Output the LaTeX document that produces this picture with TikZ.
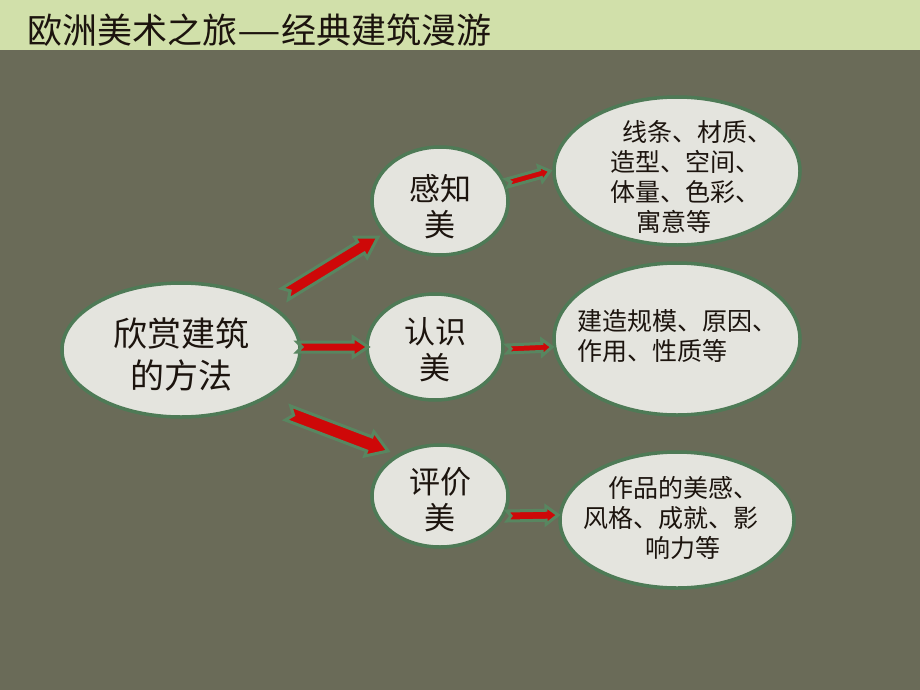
\documentclass[tikz,border=0pt]{standalone}
\usepackage{fontspec}
\newfontfamily\cjk{Noto Sans CJK SC}
\usetikzlibrary{calc,shapes.geometric}
\definecolor{bg}{RGB}{106,107,88}
\definecolor{titlebg}{RGB}{209,224,170}
\definecolor{ellfill}{RGB}{228,228,222}
\definecolor{ellline}{RGB}{78,122,86}
\definecolor{arrred}{RGB}{206,8,8}
\definecolor{arrgreen}{RGB}{88,134,96}
\definecolor{txt}{RGB}{28,20,14}
% #1 from, #2 to, #3 shaft half width, #4 head half width, #5 head length, #6 notch depth
\newcommand\blockarr[6]{%
  \filldraw[blockarrow] let \p1=(#1), \p2=(#2),
    \n1={atan2(\y2-\y1,\x2-\x1)}, \n2={veclen(\x2-\x1,\y2-\y1)} in
    [shift={(\p1)}, rotate=\n1]
    (0pt,-#3) -- ({\n2*1pt-#5},-#3) -- ({\n2*1pt-#5},-#4) -- ({\n2*1pt},0pt)
    -- ({\n2*1pt-#5},#4) -- ({\n2*1pt-#5},#3) -- (0pt,#3) -- (#6,0pt) -- cycle;}
\begin{document}
\begin{tikzpicture}[x=1pt,y=-1pt,
  bubble/.style={ellipse, draw=ellline, line width=3.5pt, fill=ellfill, inner sep=0pt},
  bigtext/.style={text=txt, align=center, font=\cjk\fontsize{34}{42}\selectfont},
  midtext/.style={text=txt, align=center, font=\cjk\fontsize{31}{36}\selectfont},
  smalltext/.style={text=txt, align=left, anchor=north west, inner sep=0pt, font=\cjk\fontsize{25}{30}\selectfont},
  blockarrow/.style={fill=arrred, draw=arrgreen, line width=3pt, line join=miter}]
\fill[bg] (0,0) rectangle (920,690);
\fill[titlebg] (0,0) rectangle (920,50);
\useasboundingbox (0,0) rectangle (920,690);
\node[anchor=base west, inner sep=0pt, text=txt, font=\cjk\fontsize{35}{40}\selectfont] (title) at (27,44) {欧洲美术之旅\scalebox{1.4}[1]{—}经典建筑漫游};
% ellipses
\node[bubble, minimum width=238pt, minimum height=134pt] (main) at (181,350) {};
\node[bigtext] (maint) at (181,354) {欣赏建筑\\的方法};
\node[bubble, minimum width=136pt, minimum height=108pt] (gz) at (440,201) {};
\node[midtext] (gzt) at (440,207) {感知\\美};
\node[bubble, minimum width=136pt, minimum height=106pt] (rs) at (435,347) {};
\node[midtext] (rst) at (435,350) {认识\\美};
\node[bubble, minimum width=136pt, minimum height=102pt] (pj) at (440,496) {};
\node[midtext] (pjt) at (440,500) {评价\\美};
\node[bubble, minimum width=246pt, minimum height=148pt] (r1) at (677,171) {};
\node[smalltext] (r1t) at (610,120) {\hspace*{12pt}线条、材质、\\造型、空间、\\体量、色彩、\\\hspace*{26pt}寓意等};
\node[bubble, minimum width=246pt, minimum height=152pt] (r2) at (677,339) {};
\node[smalltext] (r2t) at (577,309) {建造规模、原因、\\作用、性质等};
\node[bubble, minimum width=234pt, minimum height=136pt] (r3) at (677,520) {};
\node[smalltext] (r3t) at (583,476) {\hspace*{25pt}作品的美感、\\风格、成就、影\\\hspace*{62pt}响力等};
% arrows
\blockarr{$(main)+(104,-56)$}{$(gz)+(-62,36)$}{6.5pt}{12pt}{20pt}{6pt}
\blockarr{$(main)+(116,-3)$}{$(rs)+(-67,0)$}{5pt}{10pt}{15pt}{5pt}
\blockarr{$(main)+(107,63)$}{$(pj)+(-52,-45)$}{7.5pt}{13pt}{20pt}{6pt}
\blockarr{$(gz)+(67,-18)$}{$(r1)+(-127,0)$}{4pt}{8pt}{10pt}{4pt}
\blockarr{$(rs)+(72,2)$}{$(r2)+(-125,8)$}{4pt}{8pt}{10pt}{4pt}
\blockarr{$(pj)+(67,20)$}{$(r3)+(-119,-5)$}{5pt}{9pt}{12pt}{4pt}
\end{tikzpicture}
\end{document}
